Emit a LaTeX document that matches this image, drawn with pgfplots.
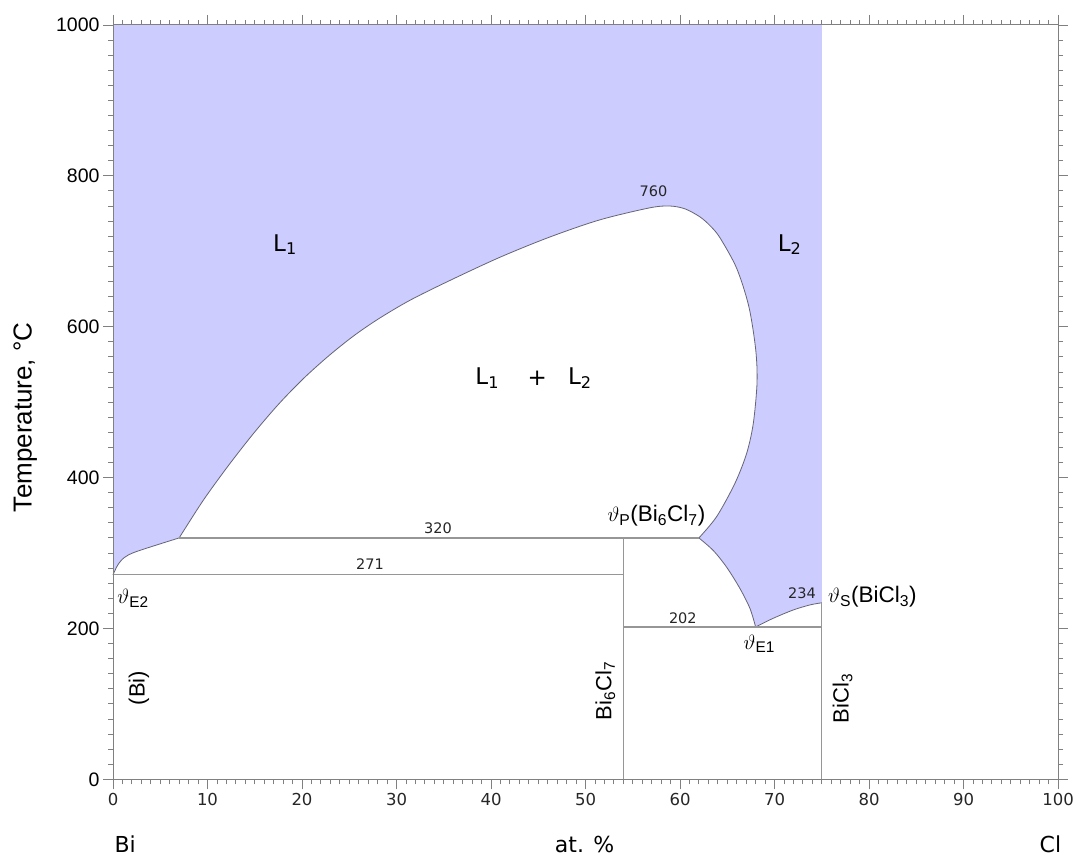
\documentclass[border=0pt]{standalone}
\usepackage{pgfplots}
\pgfplotsset{compat=1.18}
\usepackage{fontspec}
\setmainfont{Liberation Sans}
\newfontfamily\dv{DejaVu Sans}

\definecolor{liq}{RGB}{204,204,255}
\definecolor{bound}{RGB}{100,100,118}
\definecolor{iso}{RGB}{150,150,150}
\definecolor{frame}{RGB}{128,128,128}
\newcommand\fs[1]{\fontsize{#1}{#1}\selectfont}

% boundary curves (at.% Cl, temperature)
\newcommand\lowleft{(0,271) (0.5,284) (1.2,294) (2.5,302) (7,320)}
\newcommand\peritectic{(62,320) (63.53,303.2) (64.94,281.1) (66.35,252.8) (67.41,226.3) (68,202)}
\newcommand\bicl{(68,202) (69.87,213.5) (71.99,224.5) (73.76,231.2) (75,234)}
\newcommand\gap{(7,320) (9.56,370) (12.2,415.7) (14.85,458.2) (17.5,497) (20.14,531.1)
   (22.79,561) (25.43,587.5) (28.08,610.3) (31.43,635.1) (35.7,661.6) (40.95,692.1)
   (46.2,718.8) (51.5,741.6) (56.8,757.6) (58.94,760) (60.54,756.2) (62.1,745.7)
   (63.2,733.7) (64.22,718.1) (65.99,677.6) (67.28,627) (68.01,569.8) (68.15,525.7)
   (67.76,472.2) (67.06,432.4) (65.82,392.6) (63.88,348.3) (62,320)}

\begin{document}
\begin{tikzpicture}
\useasboundingbox (0,0) rectangle (1081pt,857pt);
\begin{axis}[
  at={(113pt,77.7pt)}, anchor=south west,
  scale only axis, width=945pt, height=754.3pt,
  xmin=0, xmax=100, ymin=0, ymax=1000,
  xtick={0,10,...,100}, ytick={0,200,...,1000},
  minor x tick num=9, minor y tick num=9,
  tick align=outside,
  major tick length=10pt, minor tick length=5pt,
  axis line style={frame, line width=1pt},
  every tick/.style={frame, line width=0.9pt},
  xticklabel style={font=\dv\fs{16.5}, text=black!85},
  yticklabel style={font=\fs{19.5}, text=black},
  /pgf/number format/assume math mode=true,
  /pgf/number format/1000 sep={},
  clip=false, axis on top,
]
% liquid region (L1 and L2), straight-edged first
\addplot[fill=liq, draw=none] coordinates
  {(0,1000) (75,1000) (75,234) (68,202) (62,320) (7,320) (0,271)} -- cycle;

% white areas beneath the curved boundaries
\addplot[fill=white, draw=none, smooth] coordinates {\lowleft} \closedcycle;
\addplot[fill=white, draw=none, smooth] coordinates {\peritectic} \closedcycle;
\addplot[fill=white, draw=none, smooth] coordinates {\bicl} \closedcycle;
\addplot[fill=white, draw=none, smooth] coordinates {\gap} \closedcycle;

% boundary curves
\addplot[bound, line width=0.8pt, smooth] coordinates {\lowleft};
\addplot[bound, line width=0.8pt, smooth] coordinates {\peritectic};
\addplot[bound, line width=0.8pt, smooth] coordinates {\bicl};
\addplot[bound, line width=0.8pt, smooth] coordinates {\gap};

% invariant lines and compounds
\addplot[iso, line width=1.2pt] coordinates {(7,320) (62,320)};
\addplot[iso, line width=1.2pt] coordinates {(0,271) (54,271)};
\addplot[iso, line width=1.2pt] coordinates {(54,202) (75,202)};
\addplot[iso, line width=1.2pt] coordinates {(54,0) (54,320)};
\addplot[iso, line width=1.2pt] coordinates {(75,0) (75,234)};

% temperatures
\node[font=\dv\fs{14.5}, text=black!85] at (axis cs:57.2,779) {760};
\node[font=\dv\fs{14.5}, text=black!85] at (axis cs:34.4,333) {320};
\node[font=\dv\fs{14.5}, text=black!85] at (axis cs:27.2,285) {271};
\node[font=\dv\fs{14.5}, text=black!85] at (axis cs:60.3,214) {202};
\node[font=\dv\fs{14.5}, text=black!85] at (axis cs:72.9,247) {234};

% invariant points
\node[anchor=west, font=\fs{22.5}] at (axis cs:75.3,242) {$\vartheta$\textsubscript{S}(BiCl\textsubscript{3})};
\node[font=\fs{22}] at (axis cs:68.4,180) {$\vartheta$\textsubscript{E1}};
\node[font=\fs{22.5}] at (axis cs:57.5,349) {$\vartheta$\textsubscript{P}(Bi\textsubscript{6}Cl\textsubscript{7})};
\node[anchor=west, font=\fs{22}] at (axis cs:0.1,240) {$\vartheta$\textsubscript{E2}};

% phases
\node[rotate=90, font=\fs{22}] at (axis cs:2.75,121) {(Bi)};
\node[rotate=90, font=\fs{22}] at (axis cs:52.1,117) {Bi\textsubscript{6}Cl\textsubscript{7}};
\node[rotate=90, font=\fs{22}] at (axis cs:77.2,107) {BiCl\textsubscript{3}};
\node[font=\dv\fs{23}] at (axis cs:18.2,709) {L\textsubscript{1}};
\node[font=\dv\fs{23}] at (axis cs:71.6,709) {L\textsubscript{2}};
\node[font=\dv\fs{23}] at (axis cs:39.6,532) {L\textsubscript{1}};
\node[font=\dv\fs{23}] at (axis cs:44.9,532) {+};
\node[font=\dv\fs{23}] at (axis cs:49.4,532) {L\textsubscript{2}};

% axis captions
\node[rotate=90, anchor=base, font=\fs{26}] at (axis cs:-8.6,480) {Temperature, °C};
\node[anchor=base west, font=\dv\fs{22}] at (axis cs:-0.2,-96.5) {Bi};
\node[anchor=base, font=\dv\fs{22}] at (axis cs:49.9,-96.5) {at. \%};
\node[anchor=base, font=\dv\fs{22}] at (axis cs:99.2,-96.5) {Cl};
\end{axis}
\end{tikzpicture}
\end{document}
